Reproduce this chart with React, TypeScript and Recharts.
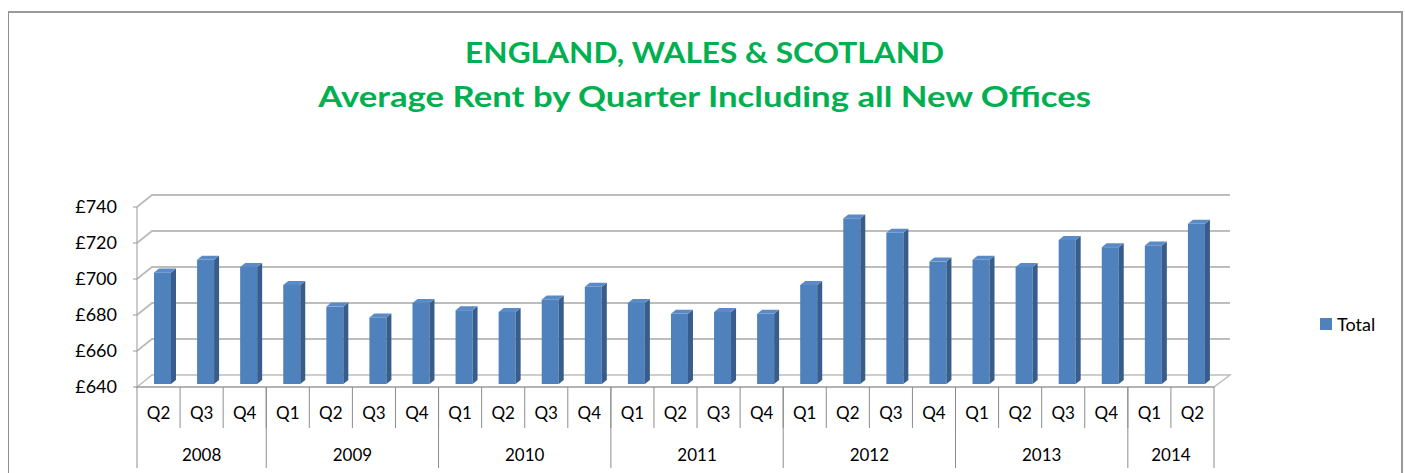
import { BarChart, Bar, XAxis, YAxis, CartesianGrid, Legend } from "recharts";

const QUARTERS = [
  "Q2", "Q3", "Q4",
  "Q1", "Q2", "Q3", "Q4",
  "Q1", "Q2", "Q3", "Q4",
  "Q1", "Q2", "Q3", "Q4",
  "Q1", "Q2", "Q3", "Q4",
  "Q1", "Q2", "Q3", "Q4",
  "Q1", "Q2",
];
const YEARS = [
  "2008", "2008", "2008",
  "2009", "2009", "2009", "2009",
  "2010", "2010", "2010", "2010",
  "2011", "2011", "2011", "2011",
  "2012", "2012", "2012", "2012",
  "2013", "2013", "2013", "2013",
  "2014", "2014",
];
const TOTAL = [
  702, 709, 705,
  695, 683, 677, 685,
  681, 680, 687, 694,
  685, 679, 680, 679,
  695, 732, 724, 708,
  709, 705, 720, 716,
  717, 729,
];
const Y_TICKS = [640, 660, 680, 700, 720, 740];
const TITLE_LINES = ["ENGLAND, WALES & SCOTLAND", "Average Rent by Quarter Including all New Offices"];

const data = QUARTERS.map((q, i) => ({ q, year: YEARS[i], total: TOTAL[i] }));

const W = 1405;
const H = 473;
const PLOT_LEFT = 137;
const PLOT_RIGHT = 1214;
const PLOT_TOP = 207;
const PLOT_BOTTOM = 387;
const Q_ROW = 41;
const YEAR_ROW = 40;
const BAND = (PLOT_RIGHT - PLOT_LEFT) / data.length;
const DEPTH_X = 15;
const DEPTH_Y = 12;
const FONT = "Lato, 'Open Sans', sans-serif";
const GRID = "#bdbdbd";
const SEP = "#8c8c8c";
// the original picture is stretched sideways a little, Lato is narrower than Calibri
const TITLE_STRETCH = [1.13, 1.24];

// back wall line + the little diagonal on the side wall; the bottom one is the floor
function WallLine(props: any) {
  const { x1, x2, y1 } = props;
  const by = y1 - DEPTH_Y;
  if (Math.abs(y1 - PLOT_BOTTOM) < 1.5) {
    return (
      <path
        d={`M${x1},${y1}L${x1 + DEPTH_X},${by}L${x2 + DEPTH_X + 1},${by}L${x2},${y1}Z`}
        fill="#fff"
        stroke={GRID}
        strokeWidth={1.5}
      />
    );
  }
  return (
    <path
      d={`M${x1},${y1}L${x1 + DEPTH_X},${by}L${x2 + DEPTH_X + 1},${by}`}
      fill="none"
      stroke={GRID}
      strokeWidth={2}
    />
  );
}

function Column3D(props: any) {
  const { x, y, width, height } = props;
  if (!height || height <= 0) return null;
  const fx = x + 4;
  const fy = y - 3;
  const dx = 5;
  const dy = 4;
  return (
    <g>
      <rect x={fx} y={fy} width={width} height={height} fill="#4F81BD" />
      <path
        d={`M${fx + width},${fy}L${fx + width + dx},${fy - dy}L${fx + width + dx},${fy + height - dy}L${fx + width},${fy + height}Z`}
        fill="#385D8A"
      />
      <path
        d={`M${fx},${fy}L${fx + dx},${fy - dy}L${fx + width + dx},${fy - dy}L${fx + width},${fy}Z`}
        fill="#5B8BC6"
      />
    </g>
  );
}

function QuarterTick(props: any) {
  const { x, y, payload } = props;
  const left = x - BAND / 2;
  return (
    <g>
      {payload.index > 0 && <line x1={left} x2={left} y1={y} y2={y + Q_ROW} stroke={SEP} strokeWidth={1} />}
      <text x={x} y={y + 32} textAnchor="middle" fontFamily={FONT} fontSize={17} fill="#000">
        {payload.value}
      </text>
    </g>
  );
}

function YearTick(props: any) {
  const { x, y, payload } = props;
  const i = payload.index;
  if (i > 0 && YEARS[i - 1] === YEARS[i]) return null;
  let n = 0;
  while (i + n < YEARS.length && YEARS[i + n] === YEARS[i]) n++;
  const left = x - BAND / 2;
  const right = left + n * BAND;
  const last = i + n >= YEARS.length;
  return (
    <g>
      <line x1={left} x2={left} y1={y - Q_ROW} y2={y + YEAR_ROW} stroke={SEP} strokeWidth={1} />
      {last && <line x1={right} x2={right} y1={y - Q_ROW} y2={y + YEAR_ROW} stroke={SEP} strokeWidth={1} />}
      <text x={(left + right) / 2} y={y + 33} textAnchor="middle" fontFamily={FONT} fontSize={17} fill="#000">
        {payload.value}
      </text>
    </g>
  );
}

function TotalLegend({ payload }: any) {
  return (
    <div style={{ fontFamily: FONT, fontSize: 18, color: "#000" }}>
      {payload?.map((entry: any, i: number) => (
        <div key={i} style={{ display: "flex", alignItems: "center", gap: 5 }}>
          <span style={{ width: 12, height: 12, background: entry.color, display: "inline-block" }} />
          <span>{entry.value}</span>
        </div>
      ))}
    </div>
  );
}

export default function App() {
  return (
    <div style={{ position: "absolute", left: 0, top: 0, width: W, height: H, overflow: "hidden", background: "#fff" }}>
      <div
        style={{
          position: "absolute",
          left: 8,
          top: 11,
          width: 1392,
          height: 520,
          borderTop: "2px solid #9a9a9a",
          borderLeft: "1px solid #8e8e8e",
          borderRight: "2px solid #9a9a9a",
        }}
      />
      <div style={{ position: "absolute", left: 0, top: 0 }}>
        <BarChart
          width={W}
          height={H}
          data={data}
          margin={{ top: PLOT_TOP, right: W - PLOT_RIGHT, left: 37, bottom: H - PLOT_BOTTOM - Q_ROW - YEAR_ROW }}
        >
          <CartesianGrid vertical={false} horizontal={WallLine} />
          <YAxis
            width={PLOT_LEFT - 37}
            domain={[640, 740]}
            ticks={Y_TICKS}
            interval={0}
            tickFormatter={(v) => `£${v}`}
            tick={{ fontFamily: FONT, fontSize: 18, fill: "#000" }}
            tickSize={4}
            tickMargin={16}
            axisLine={{ stroke: "#999" }}
            tickLine={{ stroke: "#999" }}
            allowDataOverflow
          />
          <XAxis
            dataKey="q"
            xAxisId="q"
            interval={0}
            height={Q_ROW}
            tickSize={0}
            tickMargin={0}
            tick={<QuarterTick />}
            axisLine={{ stroke: "#999" }}
            tickLine={false}
          />
          <XAxis
            dataKey="year"
            xAxisId="year"
            interval={0}
            height={YEAR_ROW}
            tickSize={0}
            tickMargin={0}
            tick={<YearTick />}
            axisLine={false}
            tickLine={false}
          />
          <Legend
            content={<TotalLegend />}
            layout="horizontal"
            verticalAlign="middle"
            align="center"
            wrapperStyle={{ left: 1320, top: 313, width: 80 }}
          />
          <Bar
            dataKey="total"
            name="Total"
            xAxisId="q"
            fill="#4F81BD"
            barSize={17}
            shape={<Column3D />}
            isAnimationActive={false}
          />
        </BarChart>
      </div>
      {TITLE_LINES.map((t, i) => (
        <div
          key={i}
          style={{
            position: "absolute",
            left: 0,
            width: 1409,
            top: 32 + i * 44,
            textAlign: "center",
            fontFamily: FONT,
            fontWeight: 700,
            fontSize: 28,
            lineHeight: "40px",
            color: "#00B050",
            transform: `scaleX(${TITLE_STRETCH[i]})`,
            transformOrigin: "704px 0",
          }}
        >
          {t}
        </div>
      ))}
    </div>
  );
}
